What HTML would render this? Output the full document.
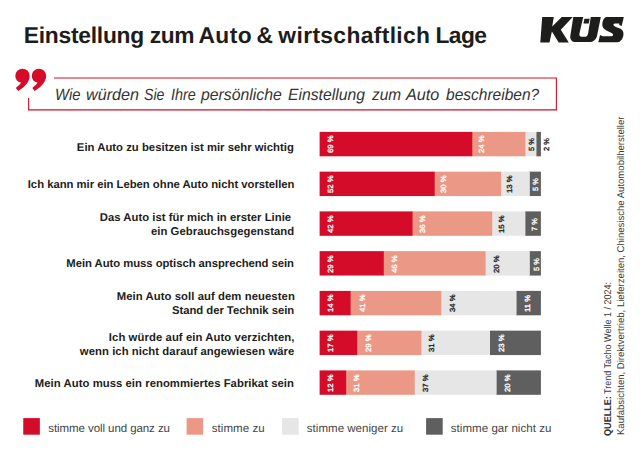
<!DOCTYPE html>
<html><head><meta charset="utf-8"><title>Einstellung zum Auto</title>
<style>
html,body{margin:0;padding:0;background:#fff;}
body{width:640px;height:453px;position:relative;overflow:hidden;font-family:"Liberation Sans",sans-serif;color:#1d1d1b;text-rendering:geometricPrecision;}
.t{position:absolute;white-space:nowrap;line-height:1;}
.lab{position:absolute;white-space:nowrap;line-height:1;font-weight:400;-webkit-text-stroke:0.35px currentColor;font-size:8px;transform-origin:0 0;}
.rl{font-weight:700;font-size:11.3px;}
.lg{font-size:11.5px;color:#444;}
</style></head><body>

<div class="t" id="tw0" style="left:23.73px;top:23.7px;font-size:22.8px;font-weight:700;letter-spacing:-0.234px;">Einstellung</div>
<div class="t" id="tw1" style="left:149.86px;top:23.7px;font-size:22.8px;font-weight:700;letter-spacing:-0.450px;">zum</div>
<div class="t" id="tw2" style="left:198.40px;top:23.7px;font-size:22.8px;font-weight:700;letter-spacing:0.480px;">Auto</div>
<div class="t" id="tw3" style="left:256.48px;top:23.7px;font-size:22.8px;font-weight:700;letter-spacing:0.000px;">&amp;</div>
<div class="t" id="tw4" style="left:278.36px;top:23.7px;font-size:22.8px;font-weight:700;letter-spacing:0.360px;">wirtschaftlich</div>
<div class="t" id="tw5" style="left:435.44px;top:23.7px;font-size:22.8px;font-weight:700;letter-spacing:-0.540px;">Lage</div>
<svg style="position:absolute;left:0;top:0" width="640" height="60" viewBox="0 0 640 60">
<g fill="#1d1d1b">
<path d="M542.2 17.1 L553.8 17.1 L552.2 26.5 L561.8 17.1 L572.7 17.1 L560.8 29.8 L568.8 42.6 L558.7 42.6 L551.9 31.6 L549.5 42.6 L540.3 42.6 Z"/>
<path d="M573.3 17 L583.2 17 L579.5 33.2 C579 35.6 580 36.8 581.8 36.8 L584.8 36.8 C586.6 36.8 587.6 35.6 588.1 33.4 L590.8 17 L600.8 17 L597.2 35 C596.2 39.8 593.4 42.1 589.4 42.1 L576.2 42.1 C571.8 42.1 569.6 39.6 570.4 35.2 Z"/>
<path d="M584.4 18.8 L589.7 18.8 L588.7 23.5 L583.5 23.5 Z"/>
</g>
<path fill="#1d1d1b" d="M606.6 17 L623.8 17 L621.7 25.9 L619.3 24.9 L619.2 23.6 L614.9 23.6 Q613.2 23.8 613.4 25.1 Q613.8 26.2 615.9 26.9 L620.5 28.8 Q623.4 30.4 623.5 33.9 Q623.4 37.5 621.8 39.5 Q620 42.2 617.2 42.2 L598.3 42.2 L600.1 34.9 L602.6 36.2 L611.2 36.2 Q613.1 36.2 613.1 34.7 Q612.9 33.5 611.6 32.9 L606.5 30.5 Q602.2 28.5 602.3 24.6 Q602.4 21.5 603.6 19.3 Q605 17 606.6 17 Z"/>
</svg>
<svg style="position:absolute;left:0;top:60px" width="640" height="60" viewBox="0 60 640 60">
<g fill="#D50C29">
<path d="M22.5 68.7 A7.2 7.2 0 0 1 29.7 75.9 C29.7 81.5 25.2 86.6 18.25 90.9 L15.85 87.9 C18.6 85.9 20.4 84 21.0 82.6 A7.2 7.2 0 0 1 15.3 75.9 A7.2 7.2 0 0 1 22.5 68.7 Z"/>
<path transform="translate(16.45 0)" d="M22.5 68.7 A7.2 7.2 0 0 1 29.7 75.9 C29.7 81.5 25.2 86.6 18.25 90.9 L15.85 87.9 C18.6 85.9 20.4 84 21.0 82.6 A7.2 7.2 0 0 1 15.3 75.9 A7.2 7.2 0 0 1 22.5 68.7 Z"/>
</g>
<path d="M54 77.95 L556.4 77.95 L556.4 109.85 L28.6 109.85 L28.6 98" fill="none" stroke="#D50C29" stroke-width="1.1"/>
</svg>
<div class="t" id="qw0" style="left:55.20px;top:87px;font-size:16.3px;font-style:italic;color:#333;transform-origin:0 0;transform:scaleX(0.9119);">Wie</div>
<div class="t" id="qw1" style="left:86.20px;top:87px;font-size:16.3px;font-style:italic;color:#333;transform-origin:0 0;transform:scaleX(0.9936);">würden</div>
<div class="t" id="qw2" style="left:144.40px;top:87px;font-size:16.3px;font-style:italic;color:#333;transform-origin:0 0;transform:scaleX(0.8688);">Sie</div>
<div class="t" id="qw3" style="left:170.60px;top:87px;font-size:16.3px;font-style:italic;color:#333;transform-origin:0 0;transform:scaleX(0.8852);">Ihre</div>
<div class="t" id="qw4" style="left:201.00px;top:87px;font-size:16.3px;font-style:italic;color:#333;transform-origin:0 0;transform:scaleX(0.9701);">persönliche</div>
<div class="t" id="qw5" style="left:288.10px;top:87px;font-size:16.3px;font-style:italic;color:#333;transform-origin:0 0;transform:scaleX(0.9652);">Einstellung</div>
<div class="t" id="qw6" style="left:371.65px;top:87px;font-size:16.3px;font-style:italic;color:#333;transform-origin:0 0;transform:scaleX(0.9456);">zum</div>
<div class="t" id="qw7" style="left:406.40px;top:87px;font-size:16.3px;font-style:italic;color:#333;transform-origin:0 0;transform:scaleX(0.9942);">Auto</div>
<div class="t" id="qw8" style="left:445.60px;top:87px;font-size:16.3px;font-style:italic;color:#333;transform-origin:0 0;transform:scaleX(0.9538);">beschreiben?</div>
<div class="t rl" id="rl0" style="left:76.84px;top:143.00px;letter-spacing:0.022px;">Ein Auto zu besitzen ist mir sehr wichtig</div>
<div class="t rl" id="rl1" style="left:27.76px;top:180.00px;letter-spacing:-0.019px;">Ich kann mir ein Leben ohne Auto nicht vorstellen</div>
<div class="t rl" id="rl2" style="left:99.84px;top:213.00px;letter-spacing:0.025px;">Das Auto ist für mich in erster Linie</div>
<div class="t rl" id="rl3" style="left:150.90px;top:227.00px;letter-spacing:0.065px;">ein Gebrauchsgegenstand</div>
<div class="t rl" id="rl4" style="left:66.34px;top:259.00px;letter-spacing:-0.043px;">Mein Auto muss optisch ansprechend sein</div>
<div class="t rl" id="rl5" style="left:116.68px;top:292.00px;letter-spacing:0.072px;">Mein Auto soll auf dem neuesten</div>
<div class="t rl" id="rl6" style="left:171.90px;top:306.00px;letter-spacing:-0.026px;">Stand der Technik sein</div>
<div class="t rl" id="rl7" style="left:108.84px;top:333.00px;letter-spacing:0.082px;">Ich würde auf ein Auto verzichten,</div>
<div class="t rl" id="rl8" style="left:79.80px;top:347.00px;letter-spacing:0.065px;">wenn ich nicht darauf angewiesen wäre</div>
<div class="t rl" id="rl9" style="left:34.84px;top:379.00px;letter-spacing:0.049px;">Mein Auto muss ein renommiertes Fabrikat sein</div>
<svg style="position:absolute;left:0;top:0" width="640" height="453" viewBox="0 0 640 453" shape-rendering="geometricPrecision"><rect x="536.00" y="131.90" width="4.90" height="24.4" fill="#5F5F5F"/><rect x="525.00" y="131.90" width="11.47" height="24.4" fill="#E6E6E6"/><rect x="472.00" y="131.90" width="53.41" height="24.4" fill="#EB9886"/><rect x="319.60" y="131.90" width="152.70" height="24.4" fill="#D50C29"/><rect x="529.00" y="171.65" width="11.90" height="24.4" fill="#5F5F5F"/><rect x="501.00" y="171.65" width="28.84" height="24.4" fill="#E6E6E6"/><rect x="434.00" y="171.65" width="67.07" height="24.4" fill="#EB9886"/><rect x="319.60" y="171.65" width="115.08" height="24.4" fill="#D50C29"/><rect x="525.00" y="211.40" width="15.90" height="24.4" fill="#5F5F5F"/><rect x="492.00" y="211.40" width="33.41" height="24.4" fill="#E6E6E6"/><rect x="412.00" y="211.40" width="80.21" height="24.4" fill="#EB9886"/><rect x="319.60" y="211.40" width="92.95" height="24.4" fill="#D50C29"/><rect x="529.00" y="251.15" width="11.90" height="24.4" fill="#5F5F5F"/><rect x="485.00" y="251.15" width="44.84" height="24.4" fill="#E6E6E6"/><rect x="383.00" y="251.15" width="102.58" height="24.4" fill="#EB9886"/><rect x="319.60" y="251.15" width="64.18" height="24.4" fill="#D50C29"/><rect x="516.00" y="290.90" width="24.90" height="24.4" fill="#5F5F5F"/><rect x="441.00" y="290.90" width="75.56" height="24.4" fill="#E6E6E6"/><rect x="350.00" y="290.90" width="91.31" height="24.4" fill="#EB9886"/><rect x="319.60" y="290.90" width="30.98" height="24.4" fill="#D50C29"/><rect x="490.00" y="330.65" width="50.90" height="24.4" fill="#5F5F5F"/><rect x="421.00" y="330.65" width="69.00" height="24.4" fill="#E6E6E6"/><rect x="357.00" y="330.65" width="64.40" height="24.4" fill="#EB9886"/><rect x="319.60" y="330.65" width="37.62" height="24.4" fill="#D50C29"/><rect x="496.00" y="370.40" width="44.90" height="24.4" fill="#5F5F5F"/><rect x="414.00" y="370.40" width="82.64" height="24.4" fill="#E6E6E6"/><rect x="346.00" y="370.40" width="68.76" height="24.4" fill="#EB9886"/><rect x="319.60" y="370.40" width="26.56" height="24.4" fill="#D50C29"/></svg>
<div class="lab" style="left:326.80px;top:153.30px;color:#fff;transform:rotate(-90deg) scale(0.97,0.93);">69 %</div>
<div class="lab" style="left:477.70px;top:153.30px;color:#fff;transform:rotate(-90deg) scale(0.97,0.93);">24 %</div>
<div class="lab" style="left:528.00px;top:151.30px;color:#1d1d1b;transform:rotate(-90deg) scale(0.93,0.93);">5 %</div>
<div class="lab" style="left:543.40px;top:151.30px;color:#1d1d1b;transform:rotate(-90deg) scale(0.93,0.93);">2 %</div>
<div class="lab" style="left:326.80px;top:193.05px;color:#fff;transform:rotate(-90deg) scale(0.97,0.93);">52 %</div>
<div class="lab" style="left:439.80px;top:193.05px;color:#fff;transform:rotate(-90deg) scale(0.97,0.93);">30 %</div>
<div class="lab" style="left:506.05px;top:193.05px;color:#1d1d1b;transform:rotate(-90deg) scale(0.97,0.93);">13 %</div>
<div class="lab" style="left:532.30px;top:191.05px;color:#fff;transform:rotate(-90deg) scale(0.93,0.93);">5 %</div>
<div class="lab" style="left:326.80px;top:232.80px;color:#fff;transform:rotate(-90deg) scale(0.97,0.93);">42 %</div>
<div class="lab" style="left:419.30px;top:232.80px;color:#fff;transform:rotate(-90deg) scale(0.97,0.93);">36 %</div>
<div class="lab" style="left:497.80px;top:232.80px;color:#1d1d1b;transform:rotate(-90deg) scale(0.97,0.93);">15 %</div>
<div class="lab" style="left:530.80px;top:230.80px;color:#fff;transform:rotate(-90deg) scale(0.93,0.93);">7 %</div>
<div class="lab" style="left:326.80px;top:272.55px;color:#fff;transform:rotate(-90deg) scale(0.97,0.93);">29 %</div>
<div class="lab" style="left:391.00px;top:272.55px;color:#fff;transform:rotate(-90deg) scale(0.97,0.93);">46 %</div>
<div class="lab" style="left:493.00px;top:272.55px;color:#1d1d1b;transform:rotate(-90deg) scale(0.97,0.93);">20 %</div>
<div class="lab" style="left:533.40px;top:270.55px;color:#fff;transform:rotate(-90deg) scale(0.93,0.93);">5 %</div>
<div class="lab" style="left:326.80px;top:312.30px;color:#fff;transform:rotate(-90deg) scale(0.97,0.93);">14 %</div>
<div class="lab" style="left:358.55px;top:312.30px;color:#fff;transform:rotate(-90deg) scale(0.97,0.93);">41 %</div>
<div class="lab" style="left:448.70px;top:312.30px;color:#1d1d1b;transform:rotate(-90deg) scale(0.97,0.93);">34 %</div>
<div class="lab" style="left:524.00px;top:312.30px;color:#fff;transform:rotate(-90deg) scale(0.97,0.93);">11 %</div>
<div class="lab" style="left:326.70px;top:352.05px;color:#fff;transform:rotate(-90deg) scale(0.97,0.93);">17 %</div>
<div class="lab" style="left:364.55px;top:352.05px;color:#fff;transform:rotate(-90deg) scale(0.97,0.93);">29 %</div>
<div class="lab" style="left:428.00px;top:352.05px;color:#1d1d1b;transform:rotate(-90deg) scale(0.97,0.93);">31 %</div>
<div class="lab" style="left:498.40px;top:352.05px;color:#fff;transform:rotate(-90deg) scale(0.97,0.93);">23 %</div>
<div class="lab" style="left:326.70px;top:391.80px;color:#fff;transform:rotate(-90deg) scale(0.97,0.93);">12 %</div>
<div class="lab" style="left:353.00px;top:391.80px;color:#fff;transform:rotate(-90deg) scale(0.97,0.93);">31 %</div>
<div class="lab" style="left:421.60px;top:391.80px;color:#1d1d1b;transform:rotate(-90deg) scale(0.97,0.93);">37 %</div>
<div class="lab" style="left:503.90px;top:391.80px;color:#fff;transform:rotate(-90deg) scale(0.97,0.93);">20 %</div>
<div class="t lg" id="lg0" style="left:48.26px;top:424px;letter-spacing:-0.074px;">stimme voll und ganz zu</div>
<div class="t lg" id="lg1" style="left:211.76px;top:424px;letter-spacing:0.068px;">stimme zu</div>
<div class="t lg" id="lg2" style="left:306.80px;top:424px;letter-spacing:0.034px;">stimme weniger zu</div>
<div class="t lg" id="lg3" style="left:450.80px;top:424px;letter-spacing:0.050px;">stimme gar nicht zu</div>
<svg style="position:absolute;left:0;top:410px" width="640" height="43" viewBox="0 410 640 43"><rect x="23.25" y="418.1" width="16.6" height="16.6" fill="#D50C29"/><rect x="186.6" y="418.1" width="16.6" height="16.6" fill="#EB9886"/><rect x="282.1" y="418.1" width="16.6" height="16.6" fill="#E6E6E6"/><rect x="426.1" y="418.1" width="16.6" height="16.6" fill="#5F5F5F"/></svg>
<div class="t" id="src1a" style="left:604.42px;top:435.6px;font-size:9.9px;font-weight:700;transform-origin:0 0;transform:rotate(-90deg) scale(0.92,1);color:#333;">QUELLE:</div>
<div class="t" id="src1b" style="left:604.42px;top:394.2px;font-size:9.9px;transform-origin:0 0;transform:rotate(-90deg) scale(0.913,1);color:#3c3c3c;">Trend Tacho Welle 1 / 2024:</div>
<div class="t" id="src2" style="left:617.02px;top:435.4px;font-size:9.9px;transform-origin:0 0;transform:rotate(-90deg) scale(0.967,1);color:#3c3c3c;">Kaufabsichten, Direktvertrieb, Lieferzeiten, Chinesische Automobilhersteller</div>
</body></html>
